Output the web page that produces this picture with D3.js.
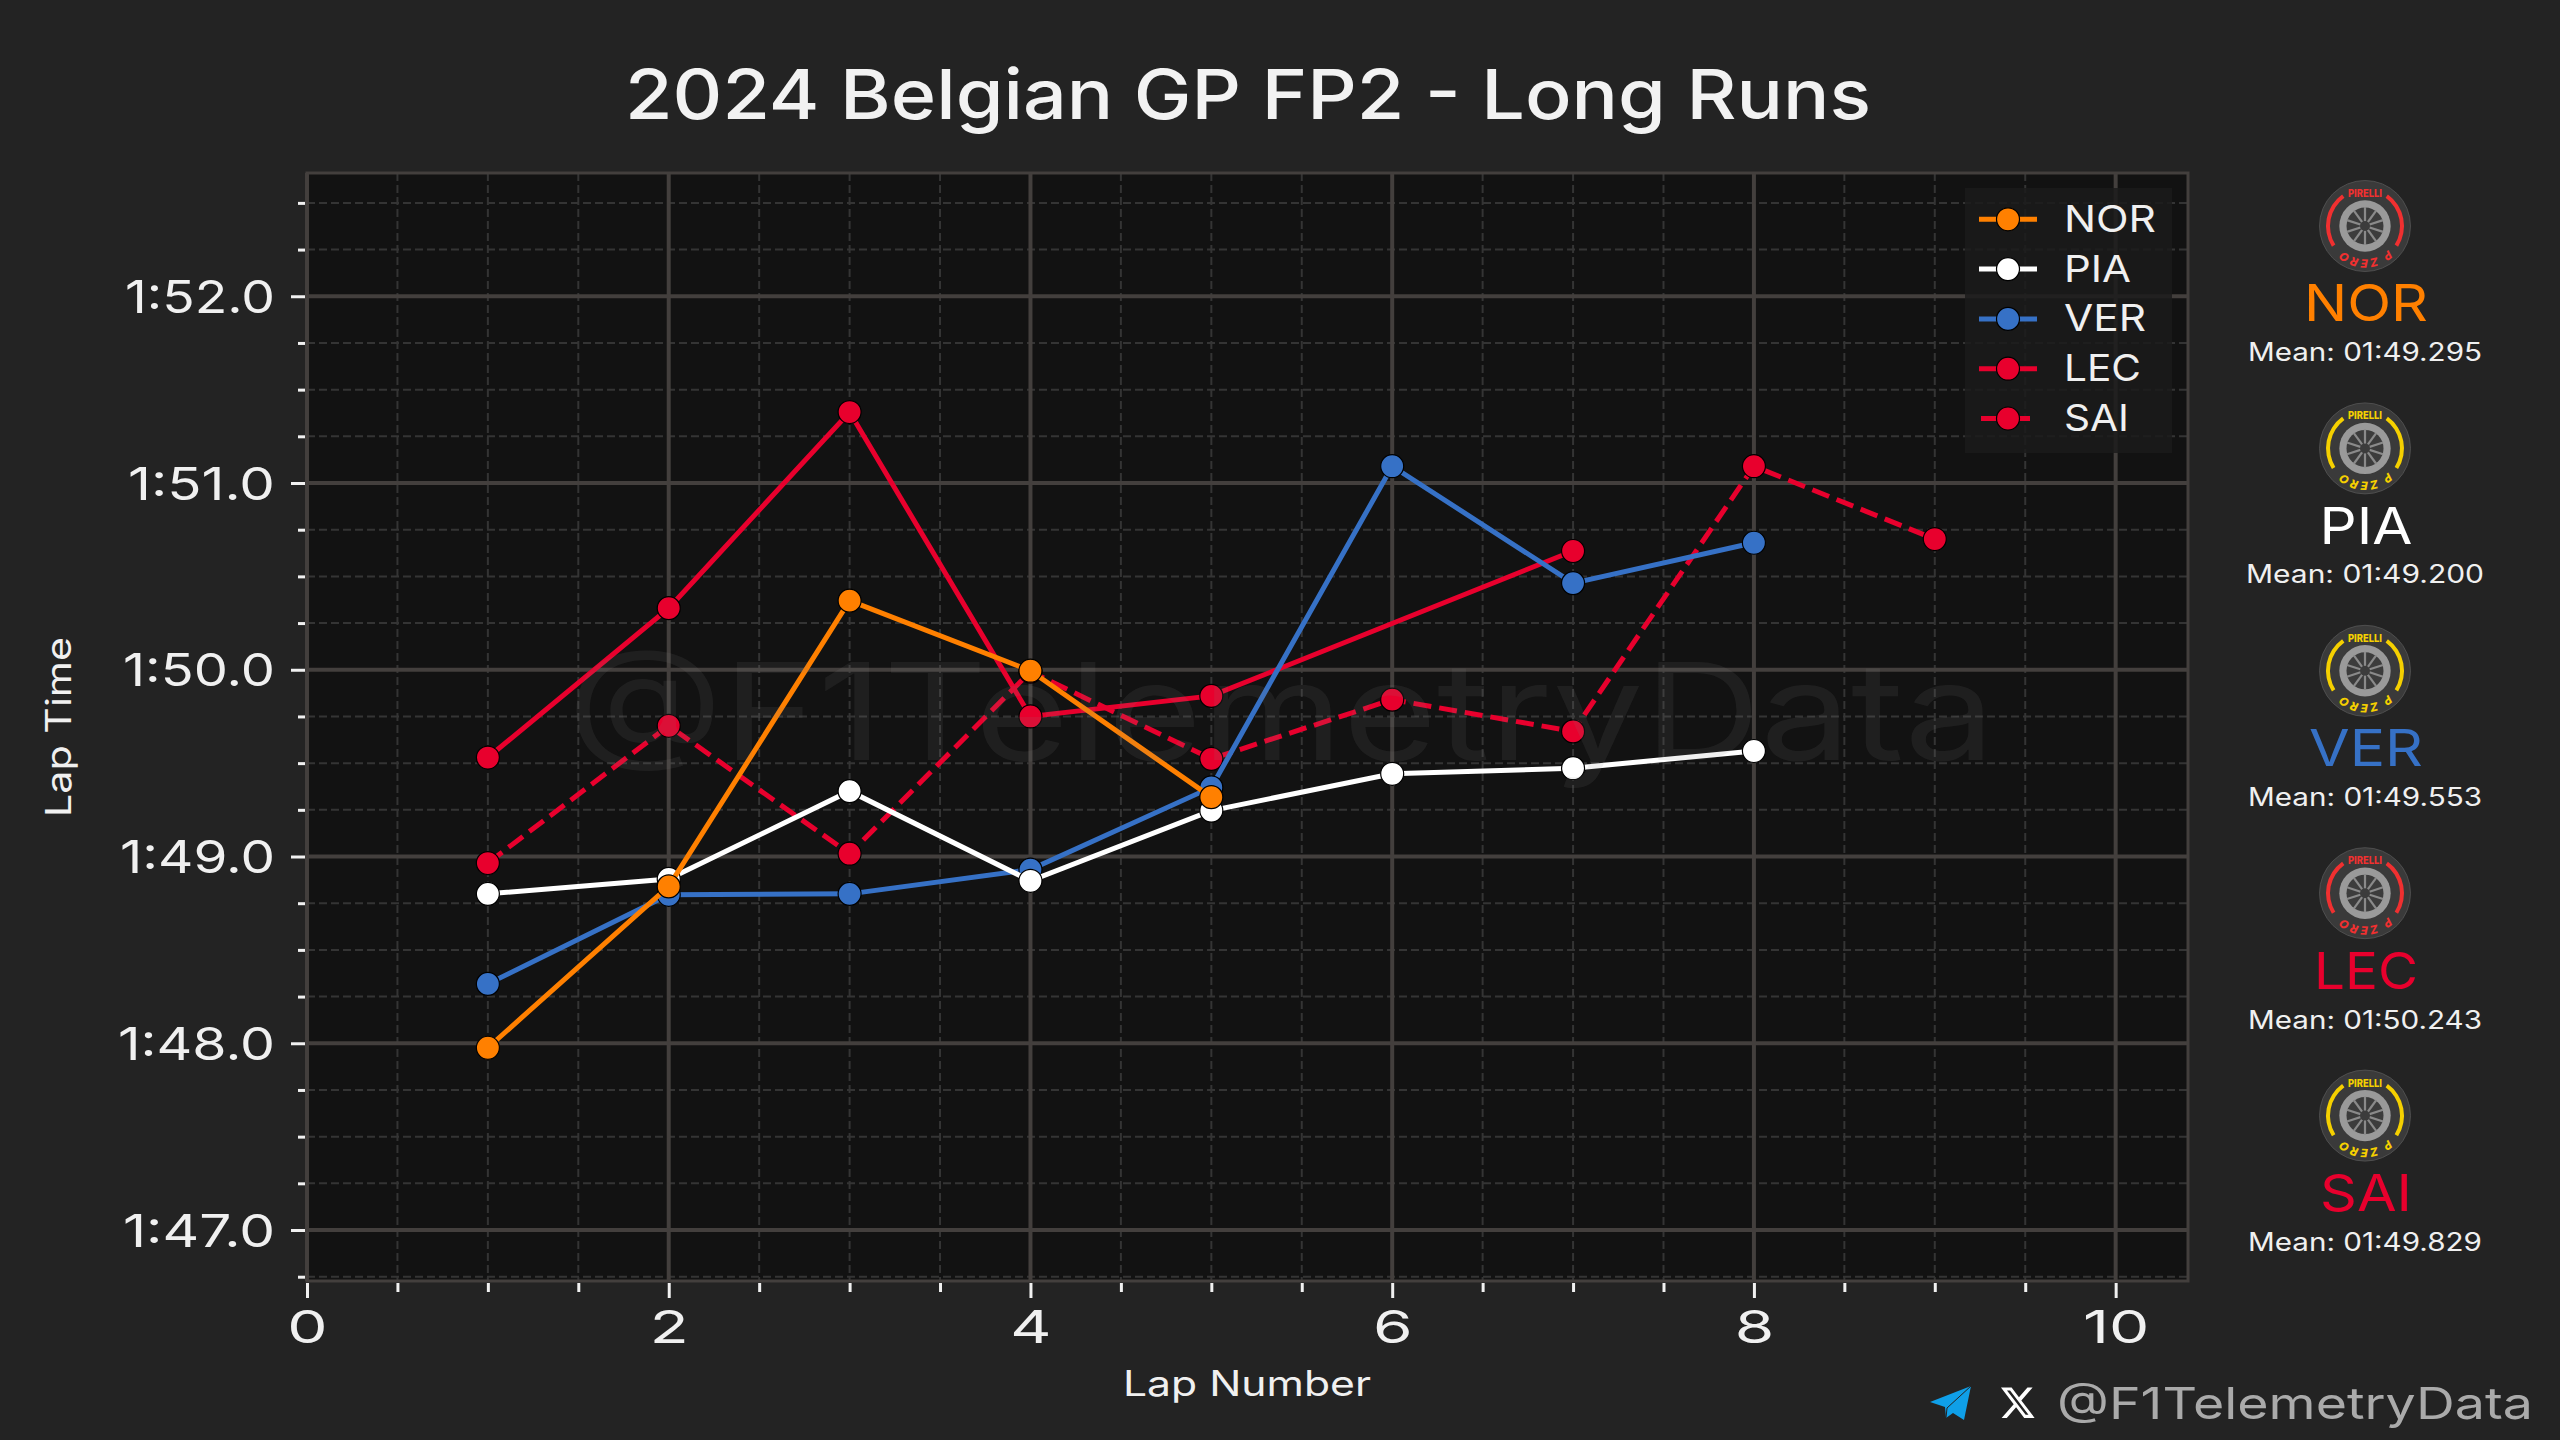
<!DOCTYPE html>
<html>
<head>
<meta charset="utf-8">
<script src="https://cdn.jsdelivr.net/npm/d3@7"></script>
<style>
  html, body { margin: 0; padding: 0; background: #232323; }
  svg { display: block; }
  text { font-family: Inter, "DejaVu Sans", sans-serif; }
</style>
</head>
<body>
<div class="svgcontainer"></div>
<script>
const drivers = ['NOR', 'PIA', 'VER', 'LEC', 'SAI'];
const driverColors = ['#ff8000', '#ffffff', '#3671c6', '#e8002d', '#e8002d'];
const driverDashed = [false, false, false, false, true];
const compounds = ['#f03030', '#f5d000', '#f5d000', '#f03030', '#f5d000'];
const meanLabels = ['Mean: 01:49.295', 'Mean: 01:49.200', 'Mean: 01:49.553', 'Mean: 01:50.243', 'Mean: 01:49.829'];
const nameWidths = [124, 93, 114, 104, 92];
const legendWidths = [92, 67, 82, 77, 65];

const norLaps = [1, 2, 3, 4, 5];
const norTimes = [107.976, 108.84, 110.37, 109.995, 109.318];
const piaLaps = [1, 2, 3, 4, 5, 6, 7, 8];
const piaTimes = [108.80, 108.88, 109.35, 108.87, 109.246, 109.443, 109.473, 109.565];
const verLaps = [1, 2, 3, 4, 5, 6, 7, 8];
const verTimes = [108.318, 108.795, 108.80, 108.93, 109.37, 111.09, 110.464, 110.68];
const lecLaps = [1, 2, 3, 4, 5, 7];
const lecTimes = [109.53, 110.33, 111.38, 109.75, 109.86, 110.636];
const saiLaps = [1, 2, 3, 4, 5, 6, 7, 8, 9];
const saiTimes = [108.965, 109.70, 109.015, 109.99, 109.523, 109.84, 109.67, 111.09, 110.70];

const allLaps = [norLaps, piaLaps, verLaps, lecLaps, saiLaps];
const allTimes = [norTimes, piaTimes, verTimes, lecTimes, saiTimes];

const xMajor = [0, 2, 4, 6, 8, 10];
const xMinor = d3.range(0, 10.01, 0.5);
const yMajor = [107, 108, 109, 110, 111, 112];
const yMinor = d3.range(106.75, 112.51, 0.25);
const yLabelWidths = [152, 157, 155, 152, 147, 150];

const width = 2560;
const height = 1440;
const plotLeft = 307, plotRight = 2188, plotTop = 173, plotBottom = 1281;

const bg = '#232323';
const gridColor = '#433f3d';
const minorColor = '#343434';
const tickColor = '#f0f0f0';

const svg = d3.select('.svgcontainer')
    .append('svg')
    .attr('width', width)
    .attr('height', height);

svg.append('rect').attr('width', width).attr('height', height).attr('fill', bg);

const x = d3.scaleLinear().domain([0, 10.4]).range([plotLeft, plotRight]);
const y = d3.scaleLinear().domain([106.727, 112.66]).range([plotBottom, plotTop]);

// stretch text to the width it has in the picture
function fit(sel, w) {
    return sel.attr('textLength', w).attr('lengthAdjust', 'spacingAndGlyphs');
}

function lapFormat(v) {
    const m = Math.floor(v / 60);
    return m + ':' + (v - m * 60).toFixed(1);
}

// plot background
svg.append('rect')
    .attr('x', plotLeft).attr('y', plotTop)
    .attr('width', plotRight - plotLeft).attr('height', plotBottom - plotTop)
    .attr('fill', '#121212');

// minor grid
const grid = svg.append('g');
grid.selectAll('.minorx')
    .data(xMinor.filter(d => !xMajor.includes(d)))
    .enter().append('line')
    .attr('x1', d => x(d)).attr('x2', d => x(d))
    .attr('y1', plotTop).attr('y2', plotBottom)
    .attr('stroke', minorColor).attr('stroke-width', 2).attr('stroke-dasharray', '8 4');
grid.selectAll('.minory')
    .data(yMinor.filter(d => !yMajor.includes(d)))
    .enter().append('line')
    .attr('x1', plotLeft).attr('x2', plotRight)
    .attr('y1', d => y(d)).attr('y2', d => y(d))
    .attr('stroke', minorColor).attr('stroke-width', 2).attr('stroke-dasharray', '8 4');

// major grid
grid.selectAll('.majorx')
    .data(xMajor)
    .enter().append('line')
    .attr('x1', d => x(d)).attr('x2', d => x(d))
    .attr('y1', plotTop).attr('y2', plotBottom)
    .attr('stroke', gridColor).attr('stroke-width', 4);
grid.selectAll('.majory')
    .data(yMajor)
    .enter().append('line')
    .attr('x1', plotLeft).attr('x2', plotRight)
    .attr('y1', d => y(d)).attr('y2', d => y(d))
    .attr('stroke', gridColor).attr('stroke-width', 4);

// spines
svg.append('rect')
    .attr('x', plotLeft).attr('y', plotTop)
    .attr('width', plotRight - plotLeft).attr('height', plotBottom - plotTop)
    .attr('fill', 'none').attr('stroke', gridColor).attr('stroke-width', 3);

// axes
const xAxis = svg.append('g').attr('transform', `translate(0,${plotBottom + 2})`)
    .call(d3.axisBottom(x).tickValues(xMajor).tickSize(15).tickPadding(13).tickFormat(d3.format('d')));
const xAxisMinor = svg.append('g').attr('transform', `translate(0,${plotBottom + 2})`)
    .call(d3.axisBottom(x).tickValues(xMinor.filter(d => !xMajor.includes(d))).tickSize(9).tickFormat(''));
const yAxis = svg.append('g').attr('transform', `translate(${plotLeft - 2},0)`)
    .call(d3.axisLeft(y).tickValues(yMajor).tickSize(14).tickPadding(16).tickFormat(lapFormat));
const yAxisMinor = svg.append('g').attr('transform', `translate(${plotLeft - 2},0)`)
    .call(d3.axisLeft(y).tickValues(yMinor.filter(d => !yMajor.includes(d))).tickSize(7).tickFormat(''));

[xAxis, xAxisMinor, yAxis, yAxisMinor].forEach(a => {
    a.select('.domain').remove();
    a.selectAll('line').attr('stroke', tickColor).attr('stroke-width', 3);
    a.selectAll('text').attr('fill', tickColor).attr('font-size', 45).style('font-family', 'Inter');
});
yAxis.selectAll('text').attr('dy', '0.36em').each(function (d, i) {
    fit(d3.select(this), yLabelWidths[i]);
});
xAxis.selectAll('text').each(function () {
    fit(d3.select(this), this.getComputedTextLength() * 1.42);
});

// laps, drawn back to front so NOR ends up on top
const line = d3.line().x(d => x(d.lap)).y(d => y(d.time));

d3.range(drivers.length - 1, -1, -1).forEach(i => {
    const points = allLaps[i].map((lap, j) => ({ lap: lap, time: allTimes[i][j] }));
    svg.append('path')
        .datum(points)
        .attr('d', line)
        .attr('fill', 'none')
        .attr('stroke', driverColors[i])
        .attr('stroke-width', 5)
        .attr('stroke-dasharray', driverDashed[i] ? '18 8' : null);
    svg.selectAll('.pt' + i)
        .data(points)
        .enter().append('circle')
        .attr('cx', d => x(d.lap))
        .attr('cy', d => y(d.time))
        .attr('r', 11.5)
        .attr('fill', driverColors[i])
        .attr('stroke', '#000')
        .attr('stroke-width', 1.2);
});

// legend
const legend = svg.append('g');
legend.append('rect')
    .attr('x', 1965).attr('y', 188).attr('width', 207).attr('height', 265)
    .attr('fill', '#1b1b1b').attr('fill-opacity', 0.85);
drivers.forEach((name, i) => {
    const ly = 219.3 + i * 49.8;
    legend.append('line')
        .attr('x1', driverDashed[i] ? 1981 : 1979).attr('x2', driverDashed[i] ? 2030 : 2037)
        .attr('y1', ly).attr('y2', ly)
        .attr('stroke', driverColors[i]).attr('stroke-width', 5);
    legend.append('circle')
        .attr('cx', 2008).attr('cy', ly).attr('r', 11.5)
        .attr('fill', driverColors[i]).attr('stroke', '#000').attr('stroke-width', 1.2);
    fit(legend.append('text')
        .attr('x', 2064).attr('y', ly + 12.5)
        .attr('fill', '#f0f0f0').attr('font-size', 37)
        .text(name), legendWidths[i]);
});

// title and axis labels
fit(svg.append('text')
    .attr('x', 1248).attr('y', 119).attr('text-anchor', 'middle')
    .attr('fill', '#f2f2f2').attr('font-size', 69).attr('font-weight', 500)
    .text('2024 Belgian GP FP2 - Long Runs'), 1246);
fit(svg.append('text')
    .attr('x', 1247).attr('y', 1396).attr('text-anchor', 'middle')
    .attr('fill', '#f0f0f0').attr('font-size', 35)
    .text('Lap Number'), 248);
fit(svg.append('text')
    .attr('transform', 'translate(71,727) rotate(-90)').attr('text-anchor', 'middle')
    .attr('fill', '#f0f0f0').attr('font-size', 35)
    .text('Lap Time'), 180);

// tyre panel
function drawTyre(g, color, i) {
    const r = 37;
    g.append('circle').attr('r', 45.5).attr('fill', '#3a3a3a').attr('stroke', '#555').attr('stroke-width', 0.8);
    const arc = d3.arc().innerRadius(r - 2).outerRadius(r + 2);
    g.append('path').attr('fill', color).attr('d', arc({ startAngle: 36 * Math.PI / 180, endAngle: 122 * Math.PI / 180 }));
    g.append('path').attr('fill', color).attr('d', arc({ startAngle: -122 * Math.PI / 180, endAngle: -36 * Math.PI / 180 }));
    g.append('circle').attr('r', 25.7).attr('fill', '#9a9a9a');
    g.append('circle').attr('r', 18.5).attr('fill', '#3c3c3c');
    d3.range(10).forEach(k => {
        const a = k * Math.PI / 5 + Math.PI / 10;
        g.append('line')
            .attr('x1', 0).attr('y1', 0)
            .attr('x2', 19 * Math.cos(a)).attr('y2', 19 * Math.sin(a))
            .attr('stroke', '#8a8a8a').attr('stroke-width', 2.2);
    });
    g.append('circle').attr('r', 5).attr('fill', '#3c3c3c');
    fit(g.append('text')
        .attr('x', 0).attr('y', -29).attr('text-anchor', 'middle')
        .attr('fill', color).attr('font-size', 11).attr('font-weight', 800)
        .text('PIRELLI'), 34);
    const id = 'pzero' + i;
    g.append('path').attr('id', id).attr('fill', 'none')
        .attr('d', 'M 30 14 A 33 33 0 0 1 -30 14');
    g.append('text')
        .attr('fill', color).attr('font-size', 11.5).attr('font-weight', 800).attr('font-style', 'italic')
        .append('textPath').attr('href', '#' + id).attr('startOffset', '50%').attr('text-anchor', 'middle')
        .attr('letter-spacing', 1.6)
        .text('P ZERO');
}

drivers.forEach((name, i) => {
    const off = i * 222.6;
    drawTyre(svg.append('g').attr('transform', `translate(2365,${226 + i * 222.4})`), compounds[i], i);
    fit(svg.append('text')
        .attr('x', 2366).attr('y', 321 + off).attr('text-anchor', 'middle')
        .attr('fill', driverColors[i]).attr('font-size', 51)
        .text(name), nameWidths[i]);
    fit(svg.append('text')
        .attr('x', 2365).attr('y', 360.5 + i * 222.7).attr('text-anchor', 'middle')
        .attr('fill', '#f0f0f0').attr('font-size', 25)
        .text(meanLabels[i]), i === 1 ? 238 : 234);
});

// branding, bottom right
const brand = svg.append('g');
brand.append('path')
    .attr('d', 'M1971 1386 L1930 1402 L1945 1407 L1946 1418 L1953 1413 L1964 1420 Z')
    .attr('fill', '#0f9fe8');
brand.append('path')
    .attr('d', 'M1971 1386 L1947 1408 L1946 1418')
    .attr('fill', 'none').attr('stroke', bg).attr('stroke-width', 1);
brand.append('path')
    .attr('transform', 'translate(1999,1384) scale(1.56)')
    .attr('d', 'M18.244 2.25h3.308l-7.227 8.26 8.502 11.24H16.17l-5.214-6.817L4.99 21.75H1.68l7.73-8.835L1.254 2.25H8.08l4.713 6.231zm-1.161 17.52h1.833L7.084 4.126H5.117z')
    .attr('fill', '#ffffff');
fit(brand.append('text')
    .attr('x', 2057).attr('y', 1419)
    .attr('fill', '#aaaaaa').attr('font-size', 44)
    .text('@F1TelemetryData'), 476);

// watermark sits over everything
fit(svg.append('text')
    .attr('x', 567).attr('y', 760)
    .attr('fill', '#808080').attr('fill-opacity', 0.12).attr('font-size', 135)
    .text('@F1TelemetryData'), 1428);
</script>
</body>
</html>
